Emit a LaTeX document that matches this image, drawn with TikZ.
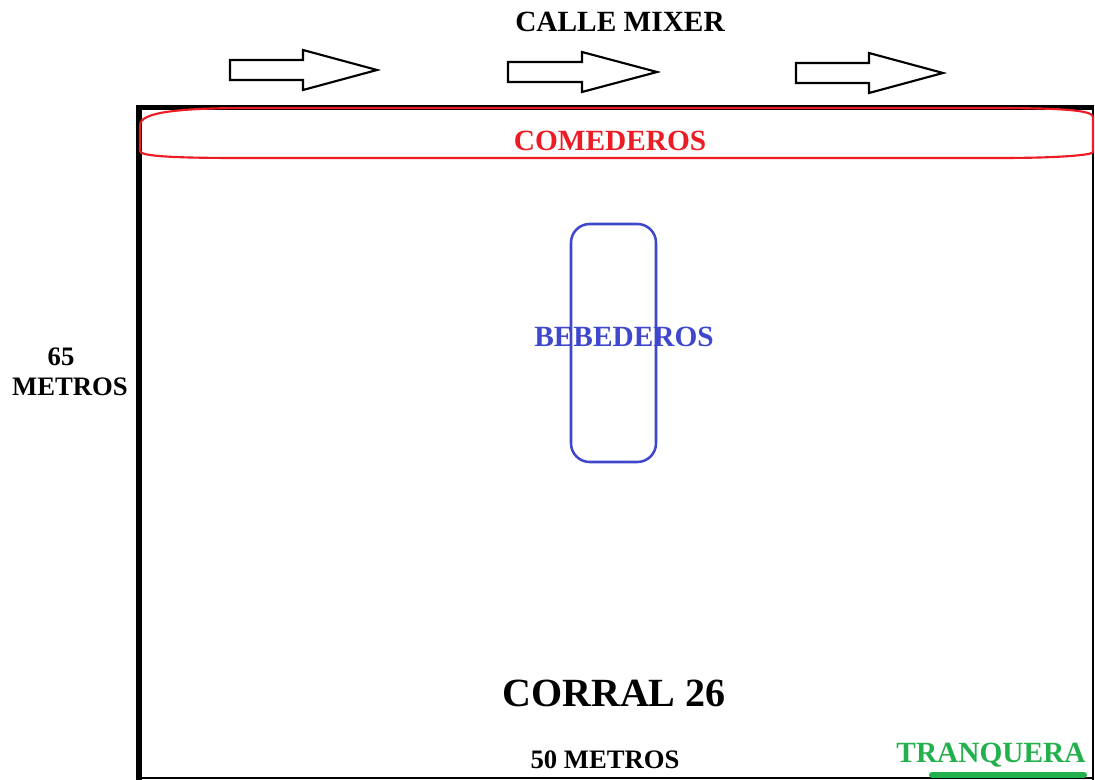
\documentclass[tikz,border=0pt]{standalone}
\usepackage{fontspec}
\setmainfont{Liberation Serif}
\begin{document}
\begin{tikzpicture}[x=0.75pt,y=-0.75pt,
  lbl/.style={anchor=base,inner sep=0pt,font=\bfseries},
  blockarrow/.style={draw=black,line width=1.6pt,fill=white,line join=miter},
]
\useasboundingbox (0,0) rectangle (1095,780);

% street label and direction arrows
\node[lbl,font=\bfseries\fontsize{22}{26}\selectfont] (calle) at (620,32) {CALLE MIXER};
\draw[blockarrow] (230,60) -- (303,60) -- (303,50) -- (377,70) -- (303,90) -- (303,80) -- (230,80) -- cycle;
\draw[blockarrow] (508,62) -- (582,62) -- (582,52) -- (657,72) -- (582,92) -- (582,82) -- (508,82) -- cycle;
\draw[blockarrow] (796,63) -- (869,63) -- (869,53) -- (943,73) -- (869,93) -- (869,83) -- (796,83) -- cycle;

% pen outline
\draw[line width=4.5pt] (139,105) -- (139,780);
\draw[line width=3.8pt] (136,107.5) -- (1094,107.5);
\draw[line width=1.6pt] (1093,105) -- (1093,780);
\draw[line width=1.5pt] (136,778) -- (1094,778);

% feeders along the street
\definecolor{feedred}{RGB}{237,28,36}
\draw[feedred,line width=1.6pt]
  (250,108) -- (990,108) .. controls (1060,108) and (1093,110) .. (1093,117)
  -- (1093,152) .. controls (1093,155) and (1060,158) .. (1000,158)
  -- (240,158) .. controls (170,158) and (140,156) .. (140,151)
  -- (140,125) .. controls (140,112) and (180,108) .. (250,108) -- cycle;
\node[lbl,text=feedred,font=\bfseries\fontsize{22}{26}\selectfont] (comederos) at (610,151) {COMEDEROS};

% water trough
\definecolor{waterblue}{RGB}{63,72,204}
\draw[waterblue,line width=1.9pt,rounded corners=14] (571,224) rectangle (656,462);
\node[lbl,text=waterblue,font=\bfseries\fontsize{22}{26}\selectfont] (bebederos) at (624,347) {BEBEDEROS};

% dimensions
\node[lbl,font=\bfseries\fontsize{20}{24}\selectfont] (alto) at (61,365) {65};
\node[lbl,font=\bfseries\fontsize{20}{24}\selectfont] (altom) at (70,395) {METROS};
\node[lbl,font=\bfseries\fontsize{20}{24}\selectfont] (ancho) at (605,768) {50 METROS};

% pen name
\node[lbl,font=\bfseries\fontsize{30}{36}\selectfont] (corral) at (614,706) {CORRAL 26};

% gate
\definecolor{gategreen}{RGB}{34,177,76}
\node[lbl,text=gategreen,font=\bfseries\fontsize{22}{26}\selectfont] (tranquera) at (991,762) {TRANQUERA};
\draw[gategreen,line width=4.5pt,line cap=round] (932,775) -- (1084,775);
\end{tikzpicture}
\end{document}
